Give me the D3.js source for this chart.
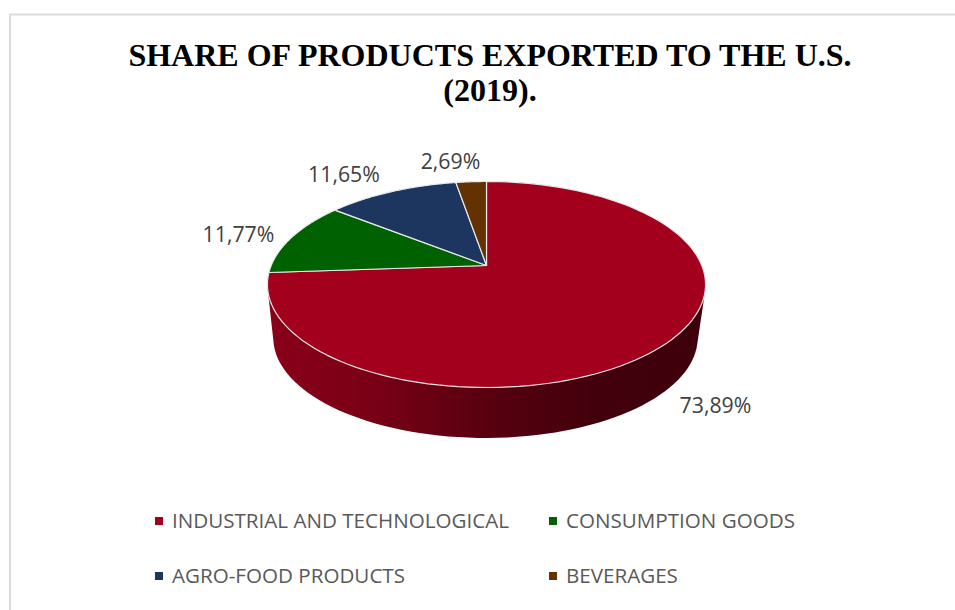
<!DOCTYPE html>
<html>
<head>
<meta charset="utf-8">
<script src="https://cdn.jsdelivr.net/npm/d3@7/dist/d3.min.js"></script>
<style>
html,body{margin:0;padding:0;background:#fff}
svg{display:block}
</style>
</head>
<body>
<svg id="chart" width="955" height="610"></svg>
<script>
const categories = ["INDUSTRIAL AND TECHNOLOGICAL", "CONSUMPTION GOODS", "AGRO-FOOD PRODUCTS", "BEVERAGES"];
const shares = [73.89, 11.77, 11.65, 2.69];
const shareLabels = ["73,89%", "11,77%", "11,65%", "2,69%"];
const sliceColors = ["#a2001d", "#006100", "#1d3660", "#633200"];
const titleLines = ["SHARE OF PRODUCTS EXPORTED TO THE U.S.", "(2019)."];

const svg = d3.select("#chart");

// Chart frame: only the top and left edges fall inside the page
svg.append("path")
  .attr("d", "M955,14.5H10V610")
  .attr("fill", "none")
  .attr("stroke", "#dcdcdc")
  .attr("stroke-width", 2);

svg.append("text")
  .attr("text-anchor", "middle")
  .attr("font-family", "'Liberation Serif', serif")
  .attr("font-weight", "bold")
  .attr("font-size", 32)
  .attr("fill", "#000")
  .selectAll("tspan")
  .data(titleLines)
  .join("tspan")
  .attr("x", 490)
  .attr("y", (d, i) => 66 + i * 35)
  .text(d => d);

// Perspective disc: a unit circle seen from above, the near edge drawn larger
const tilt = 0.1845;
const project = (disc, angle) => {
  const u = Math.sin(angle), v = -Math.cos(angle), w = 1 - tilt * v;
  return [disc.cx + disc.rx * u / w, disc.cy + disc.ry * v / w];
};
const topDisc = {cx: 486.5, cy: 265.5, rx: 215.3, ry: 99.5};
const baseDisc = {cx: 485.5, cy: 319.5, rx: 208.5, ry: 96.6};

const arcs = d3.pie().sort(null).value(d => d)(shares);
const sweep = (a0, a1) => d3.range(0, 121).map(i => a0 + (a1 - a0) * i / 120);

const defs = svg.append("defs");
const wallGradient = defs.append("linearGradient")
  .attr("id", "wall-shade")
  .attr("gradientUnits", "userSpaceOnUse")
  .attr("x1", 268).attr("x2", 706).attr("y1", 0).attr("y2", 0);
[[0, "#8a0019"], [0.25, "#780016"], [0.5, "#58000f"], [0.75, "#42000c"], [1, "#3e000b"]]
  .forEach(([o, c]) => wallGradient.append("stop").attr("offset", o).attr("stop-color", c));

// Side wall: hull of the first slice's rim on the top and base discs
const rimAngles = sweep(arcs[0].startAngle, arcs[0].endAngle);
const wallHull = d3.polygonHull(
  rimAngles.map(a => project(topDisc, a)).concat(rimAngles.map(a => project(baseDisc, a)))
);
const closedLine = d3.line().curve(d3.curveLinearClosed);
svg.append("path")
  .attr("d", closedLine(wallHull))
  .attr("fill", "url(#wall-shade)");

// Top face slices
svg.append("g")
  .selectAll("path")
  .data(arcs)
  .join("path")
  .attr("d", d => closedLine([[topDisc.cx, topDisc.cy]].concat(
    sweep(d.startAngle, d.endAngle).map(a => project(topDisc, a)))))
  .attr("fill", (d, i) => sliceColors[i])
  .attr("stroke", "#e8e8e8")
  .attr("stroke-width", 1.2)
  .attr("stroke-linejoin", "round");

// Value labels around the disc
const labelSpots = [[715.5, 413], [238.5, 242], [344, 182], [450.5, 169]];
svg.append("g")
  .attr("font-family", "'Open Sans', sans-serif")
  .attr("font-size", 21.3)
  .attr("fill", "#404040")
  .attr("text-anchor", "middle")
  .selectAll("text")
  .data(shareLabels)
  .join("text")
  .attr("x", (d, i) => labelSpots[i][0])
  .attr("y", (d, i) => labelSpots[i][1])
  .text(d => d);

// Legend, two rows of two
const legendX = d3.scaleOrdinal().domain([0, 1]).range([155, 549]);
const legendY = d3.scaleOrdinal().domain([0, 1]).range([521, 576]);
const legend = svg.append("g")
  .selectAll("g")
  .data(categories)
  .join("g")
  .attr("transform", (d, i) => `translate(${legendX(i % 2)},${legendY(Math.floor(i / 2))})`);
legend.append("rect")
  .attr("x", 0).attr("y", -4)
  .attr("width", 8).attr("height", 8)
  .attr("fill", (d, i) => sliceColors[i]);
legend.append("text")
  .attr("x", 17).attr("y", 7)
  .attr("font-family", "'Open Sans', sans-serif")
  .attr("font-size", 20.6)
  .attr("fill", "#595959")
  .text(d => d);
</script>
</body>
</html>
